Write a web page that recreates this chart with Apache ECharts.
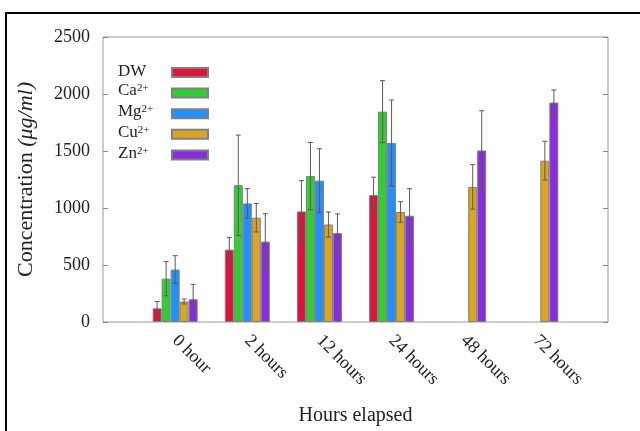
<!DOCTYPE html>
<html><head><meta charset="utf-8">
<script src="https://cdn.jsdelivr.net/npm/echarts@6/dist/echarts.min.js"></script>
<style>html,body{margin:0;padding:0;background:#fff}#c{width:640px;height:431px}</style>
</head><body><div id="c"></div>
<script>
const categories = ['0 hour', '2 hours', '12 hours', '24 hours', '48 hours', '72 hours'];
const seriesNames = ['DW', 'Ca2+', 'Mg2+', 'Cu2+', 'Zn2+'];
const dwValues = [120, 635, 970, 1115, null, null];
const dwErr    = [60, 105, 270, 155, null, null];
const caValues = [380, 1200, 1280, 1845, null, null];
const caErr    = [150, 440, 295, 272, null, null];
const mgValues = [460, 1040, 1240, 1570, null, null];
const mgErr    = [122, 130, 280, 377, null, null];
const cuValues = [180, 915, 855, 965, 1185, 1415];
const cuErr    = [22, 125, 110, 90, 195, 170];
const znValues = [200, 705, 780, 932, 1505, 1925];
const znErr    = [130, 245, 168, 237, 348, 110];
const yTicks = [0, 500, 1000, 1500, 2000, 2500];

const values = [dwValues, caValues, mgValues, cuValues, znValues];
const errs = [dwErr, caErr, mgErr, cuErr, znErr];
const colors = ['#DC143C', '#32CD32', '#1E90FF', '#DAA520', '#8A2BE2'];
const legendLabels = {'DW': 'DW', 'Ca2+': 'Ca{s|2+}', 'Mg2+': 'Mg{s|2+}', 'Cu2+': 'Cu{s|2+}', 'Zn2+': 'Zn{s|2+}'};
const BW = 9;
const FONT = 'Liberation Serif';

const axisCats = [''].concat(categories, ['']);
const pad = arr => [null].concat(arr, [null]);

const series = [];
values.forEach((v, i) => {
  series.push({
    name: seriesNames[i], type: 'bar', data: pad(v), barWidth: BW, barGap: '0%',
    itemStyle: {color: colors[i], borderColor: '#808080', borderWidth: 1},
    z: 2
  });
});
values.forEach((v, i) => {
  const d = [];
  v.forEach((val, k) => { if (val != null) d.push([k + 1, val - errs[i][k], val + errs[i][k]]); });
  series.push({
    type: 'custom', data: d, z: 5, silent: true,
    encode: {x: 0, y: [1, 2]},
    renderItem: (params, api) => {
      const lo = api.coord([api.value(0), api.value(1)]);
      const hi = api.coord([api.value(0), api.value(2)]);
      const x = lo[0] + (i - 2) * BW;
      const cw = 2.5;
      const st = {stroke: '#5a5a5a', lineWidth: 1};
      return {type: 'group', children: [
        {type: 'line', shape: {x1: x, y1: lo[1], x2: x, y2: hi[1]}, style: st},
        {type: 'line', shape: {x1: x - cw, y1: hi[1], x2: x + cw, y2: hi[1]}, style: st},
        {type: 'line', shape: {x1: x - cw, y1: lo[1], x2: x + cw, y2: lo[1]}, style: st}
      ]};
    }
  });
});

const chart = echarts.init(document.getElementById('c'), null, {renderer: 'canvas'});
chart.setOption({
  animation: false,
  backgroundColor: '#fff',
  graphic: [{type: 'rect', shape: {x: 6, y: 13, width: 700, height: 500},
    style: {fill: 'none', stroke: '#000', lineWidth: 2}, z: 100}],
  grid: {left: 103, right: 32, top: 37, bottom: 101, show: true, borderColor: '#999', borderWidth: 1},
  legend: [{
    orient: 'vertical', left: 107, top: 58,
    itemWidth: 1, itemHeight: 8, itemGap: 2.4, icon: 'rect',
    itemStyle: {color: 'rgba(0,0,0,0)', borderWidth: 0},
    data: seriesNames,
    formatter: n => legendLabels[n],
    textStyle: {fontFamily: FONT, fontSize: 17, color: '#222', lineHeight: 16,
      rich: {s: {fontFamily: FONT, fontSize: 11, verticalAlign: 'top', lineHeight: 16, padding: [0, 0, 7, 0], color: '#222'}}}
  }, {
    orient: 'vertical', left: 166, top: 62,
    itemWidth: 36, itemHeight: 9, itemGap: 9.6, icon: 'rect',
    data: seriesNames,
    formatter: () => '',
    textStyle: {fontSize: 1, lineHeight: 9}
  }],
  xAxis: {
    type: 'category', data: axisCats, boundaryGap: false,
    axisLine: {show: false}, axisTick: {show: false},
    axisLabel: {interval: 0, rotate: -45, margin: 16, fontFamily: FONT, fontSize: 18, color: '#222'},
    name: 'Hours elapsed', nameLocation: 'middle', nameGap: 84,
    nameTextStyle: {fontFamily: FONT, fontSize: 20, color: '#222'}
  },
  yAxis: [{
    type: 'value', min: 0, max: 2500, interval: 500,
    axisLine: {show: false}, splitLine: {show: false},
    axisTick: {show: true, inside: true, length: 5, lineStyle: {color: '#888'}},
    axisLabel: {fontFamily: FONT, fontSize: 18, color: '#222', margin: 13,
      formatter: v => yTicks.includes(v) ? String(v) : ''},
    name: 'Concentration {i|(μg/ml)}', nameLocation: 'middle', nameGap: 66,
    nameTextStyle: {fontFamily: FONT, fontSize: 22, color: '#222',
      rich: {i: {fontFamily: FONT, fontSize: 22, fontStyle: 'italic', color: '#222'}}}
  }, {
    type: 'value', min: 0, max: 2500, interval: 500, position: 'right',
    axisLine: {show: false}, splitLine: {show: false}, axisLabel: {show: false},
    axisTick: {show: true, inside: true, length: 5, lineStyle: {color: '#888'}}
  }],
  series: series
});
</script></body></html>
